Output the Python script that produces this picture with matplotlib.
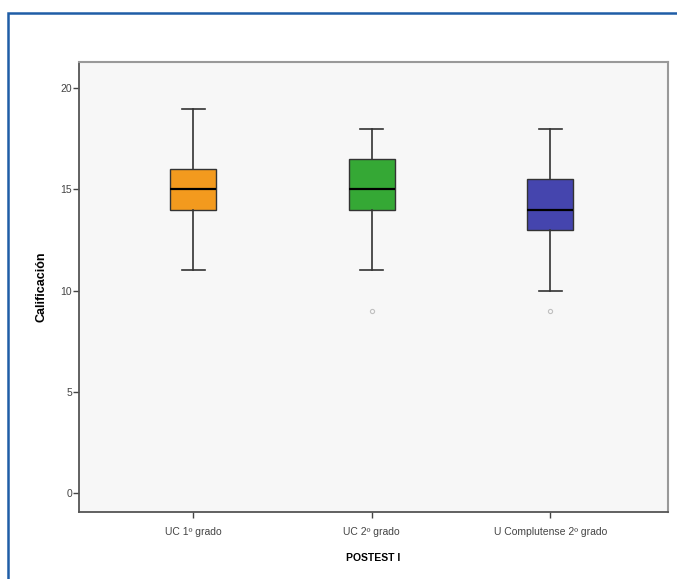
import numpy as np
import matplotlib.pyplot as plt
from matplotlib.patches import Rectangle

plt.rcParams["font.family"] = ["Liberation Sans", "DejaVu Sans"]

# Resumen de calificaciones por grupo (POSTEST I)
grupos = ["UC 1º grado", "UC 2º grado", "U Complutense 2º grado"]
bigote_inf = [11, 11, 10]
q1 = [14, 14, 13]
mediana = [15, 15, 14]
q3 = [16, 16.5, 15.5]
bigote_sup = [19, 18, 18]
atipicos = [[], [9], [9]]
colores = ["#F39A1E", "#35A835", "#4545AE"]

stats = []
for i, g in enumerate(grupos):
    stats.append({
        "label": g,
        "whislo": bigote_inf[i],
        "q1": q1[i],
        "med": mediana[i],
        "q3": q3[i],
        "whishi": bigote_sup[i],
        "fliers": atipicos[i],
    })

fig = plt.figure(figsize=(6.77, 5.79), dpi=100)
fig.patch.set_facecolor("white")

# marco azul del recuadro
fig.patches.append(Rectangle((8 / 677, -0.1), 1.2, (579 - 13) / 579 + 0.1,
                             transform=fig.transFigure, fill=False,
                             edgecolor="#1F5DA6", linewidth=1.8))

ax = fig.add_axes([79 / 677, (579 - 512) / 579, (668 - 79) / 677, (512 - 62) / 579])
ax.set_facecolor("#F7F7F7")

bp = ax.bxp(stats, positions=range(len(grupos)), widths=0.26, patch_artist=True,
            medianprops=dict(color="black", linewidth=1.6),
            whiskerprops=dict(color="#333333", linewidth=1.2),
            capprops=dict(color="#333333", linewidth=1.2),
            boxprops=dict(edgecolor="#333333", linewidth=1.0),
            flierprops=dict(marker="o", markersize=3, markerfacecolor="none",
                            markeredgecolor="#C0C0C0", markeredgewidth=0.8))
for caja, c in zip(bp["boxes"], colores):
    caja.set_facecolor(c)
for cap in bp["caps"]:
    m = cap.get_xdata().mean()
    cap.set_xdata([m - 0.065, m + 0.065])

ax.set_xlim(-0.64, 2.66)
ax.set_ylim(-0.95, 21.3)
ax.set_yticks([0, 5, 10, 15, 20])
ax.set_xticks(range(len(grupos)))
ax.set_xticklabels(grupos)

ax.tick_params(axis="both", labelsize=7.5, colors="#444444", length=4, width=1)
ax.tick_params(axis="y", pad=1)
ax.tick_params(axis="x", pad=7)

for s in ["left", "bottom"]:
    ax.spines[s].set_color("#555555")
    ax.spines[s].set_linewidth(1.3)
for s in ["top", "right"]:
    ax.spines[s].set_color("#999999")
    ax.spines[s].set_linewidth(1.5)

ax.set_ylabel("Calificación", fontsize=9, fontweight="bold", labelpad=9)
ax.set_xlabel("POSTEST I", fontsize=7.5, fontweight="bold", labelpad=11)

fig.savefig("out.png", dpi=100)
